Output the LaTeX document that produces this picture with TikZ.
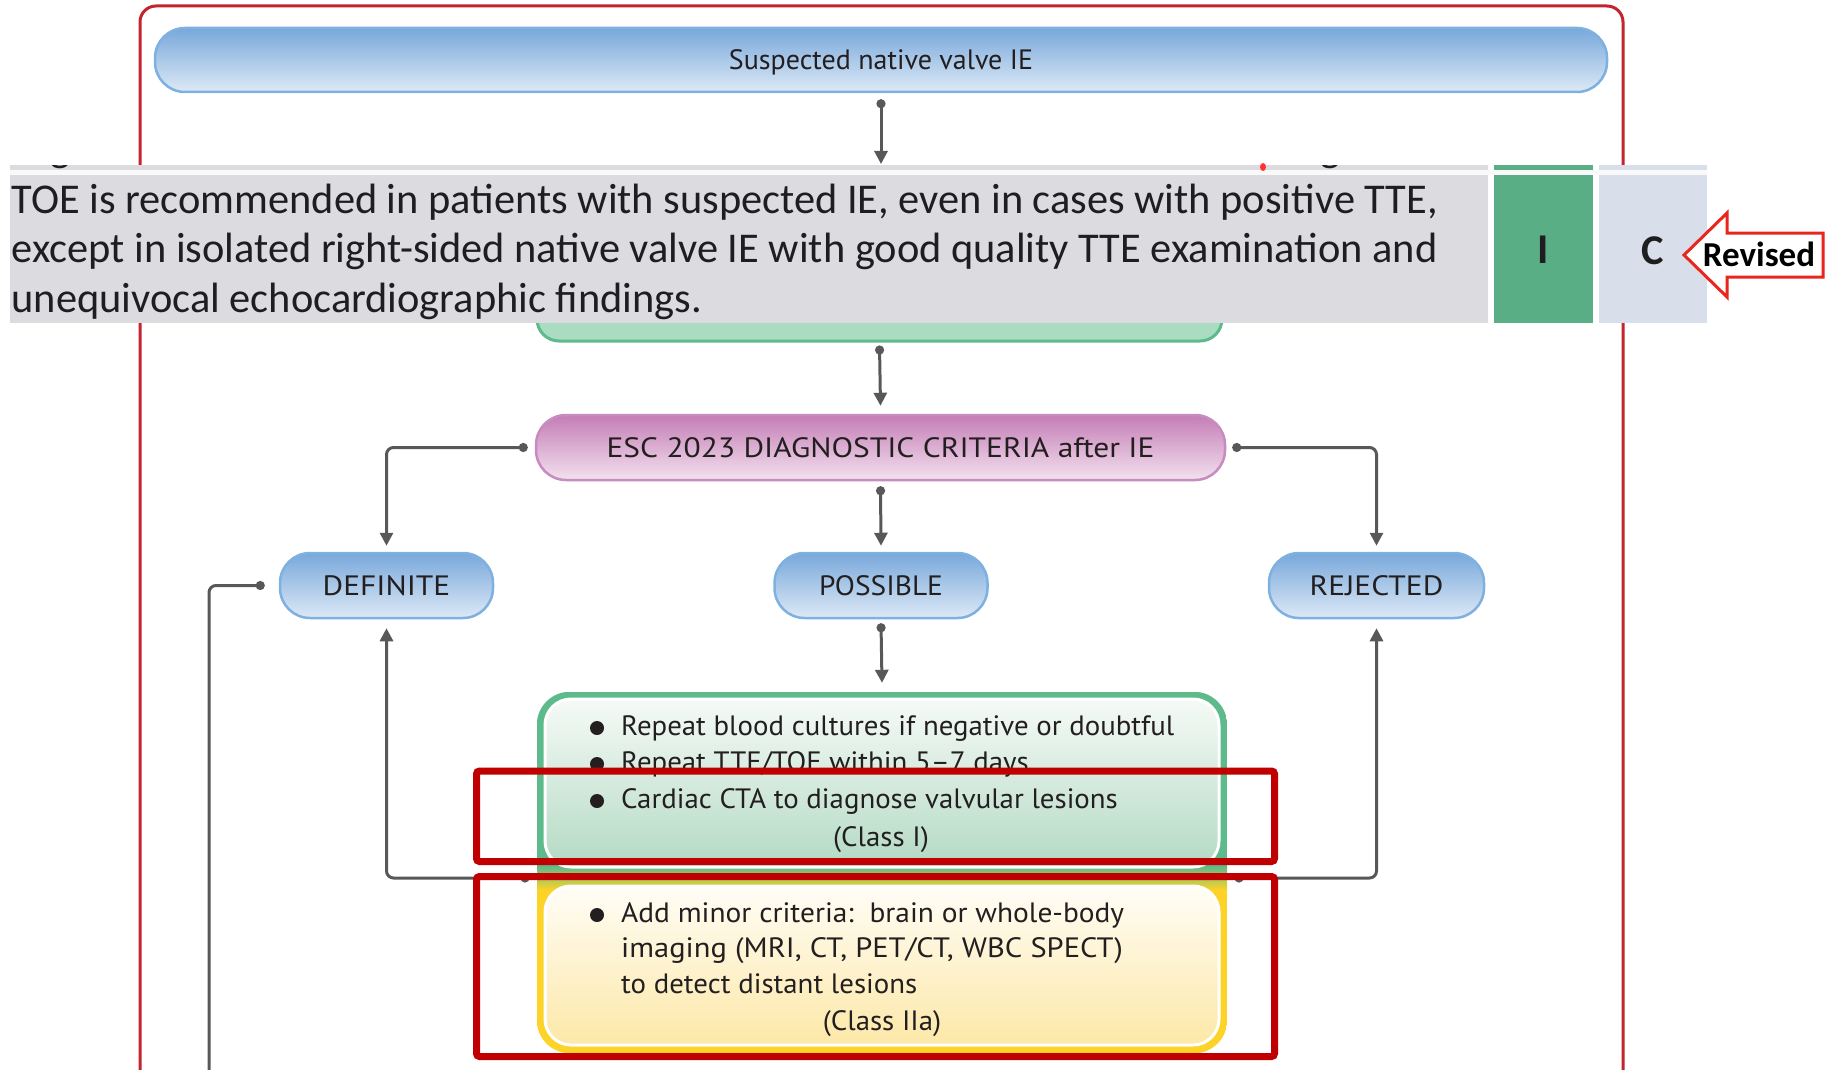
\documentclass[tikz,border=0pt]{standalone}
\usepackage{fontspec}
\usetikzlibrary{arrows.meta}
\newfontfamily\tabfont{Carlito}
\newfontfamily\flowplain{PT Sans}
\newfontfamily\flowfamily[FakeStretch=1.03]{PT Sans}
\newfontfamily\flowmid[FakeStretch=1.05]{PT Sans}
\newfontfamily\flowwide[FakeStretch=1.09]{PT Sans}
\newfontfamily\flowcaps[FakeStretch=1.125]{PT Sans}

\definecolor{framered}{HTML}{C3242E}
\definecolor{hired}{HTML}{C00000}
\definecolor{revred}{HTML}{E8261E}
\definecolor{connc}{HTML}{585858}
\definecolor{blueTop}{HTML}{78A8DB}
\definecolor{blueBot}{HTML}{DDE9F6}
\definecolor{blueEdge}{HTML}{7EB0E0}
\definecolor{pinkTop}{HTML}{C47DB5}
\definecolor{pinkBot}{HTML}{F3E1EF}
\definecolor{pinkEdge}{HTML}{C88BC0}
\definecolor{tabgray}{HTML}{DCDBDF}
\definecolor{tabgreen}{HTML}{5AAE86}
\definecolor{tabblue}{HTML}{D8DFEA}
\definecolor{tabtxt}{HTML}{1E1E20}
\definecolor{boxgreen}{HTML}{5DBA8A}
\definecolor{boxyellow}{HTML}{FDD327}
\definecolor{teeFill}{HTML}{AADCC1}
\definecolor{gTop}{HTML}{F6FAF7}
\definecolor{gBot}{HTML}{B3DAC3}
\definecolor{yTop}{HTML}{FFFDF6}
\definecolor{yBot}{HTML}{FDE8A8}
\definecolor{txt}{HTML}{231F20}

\tikzset{
  conn/.style={draw=connc, line width=3pt, rounded corners=7pt,
    {Circle[length=9pt]}-{Triangle[length=13pt,width=13pt]}},
  tailonly/.style={draw=connc, line width=3pt, rounded corners=7pt, {Circle[length=9pt]}-},
  pillbase/.style={shape=rectangle, rounded corners=30pt, line width=2.5pt, inner sep=0pt,
    text=txt, font=\flowcaps\fontsize{28}{34}\selectfont, text height=20pt, text depth=0pt},
  bluepill/.style={pillbase, draw=blueEdge, top color=blueTop, bottom color=blueBot},
  pinkpill/.style={pillbase, draw=pinkEdge, top color=pinkTop, bottom color=pinkBot},
  flowtext/.style={inner sep=0pt, text=txt, font=\flowfamily\fontsize{28}{34}\selectfont, anchor=base west},
  tabtext/.style={inner sep=0pt, text=tabtxt, font=\tabfont\fontsize{42.4}{48}\selectfont, anchor=base west},
  tabcell/.style={inner sep=0pt, anchor=north west, minimum height=158pt},
  redmark/.style={draw=hired, line width=7pt, rounded corners=3pt},
}

\begin{document}
\begin{tikzpicture}[x=1pt,y=-1pt]
\useasboundingbox (0,0) rectangle (1831,1070);
\clip (0,0) rectangle (1831,1070);
\fill[white] (0,0) rectangle (1831,1070);

% outer frame of the figure
\draw[framered, line width=3pt, rounded corners=16pt] (140,1100) -- (140,6) -- (1623,6) -- (1623,1100);

% first step
\node[bluepill, font=\flowplain\fontsize{28}{34}\selectfont, minimum width=1452pt, minimum height=64pt]
  (susp) at (881,60) {Suspected native valve IE};

% imaging box, mostly under the recommendation row
\node[draw=boxgreen, fill=teeFill, line width=3pt, rounded corners=22pt,
      minimum width=685pt, minimum height=90pt] (tee) at (879.5,296) {};

% recommendation row
\node[tabcell, fill=tabgray, minimum width=1478pt] (rec) at (10,165) {};
\node[tabcell, fill=tabgreen, minimum width=99pt] (cls) at (1494,165) {};
\node[tabcell, fill=tabblue, minimum width=108pt] (lvl) at (1599,165) {};
\fill[white!95!gray] (10,170) rectangle (1707,175);
\begin{scope}
  \clip (10,165) rectangle (1707,170);
  \node[tabtext] (frag1) at (50,161) {g};
  \node[tabtext] (frag2) at (1320,161) {g};
\end{scope}
\fill[red!80!white] (1263,167) ellipse (3pt and 4pt);

\node[tabtext] (rec1) at (11.5,213.3) {TOE is recommended in patients with suspected IE, even in cases with positive TTE,};
\node[tabtext] (rec2) at (11.5,262.8) {except in isolated right-sided native valve IE with good quality TTE examination and};
\node[tabtext] (rec3) at (11.5,312.3) {unequivocal echocardiographic findings.};
\node[inner sep=0pt, text=tabtxt, font=\tabfont\bfseries\fontsize{42.4}{48}\selectfont,
      text height=27pt, text depth=0pt] (clsI) at (1543,250) {I};
\node[inner sep=0pt, text=tabtxt, font=\tabfont\bfseries\fontsize{42.4}{48}\selectfont,
      text height=27pt, text depth=0pt] (lvlC) at (1653,251) {C};

% revision marker
\draw[revred, line width=3pt, fill=white, line join=miter]
  (1684,255) -- (1727,213) -- (1727,233) -- (1823,233) -- (1823,277) -- (1727,277) -- (1727,297) -- cycle;
\node[inner sep=0pt, text=black, font=\tabfont\bfseries\fontsize{35}{40}\selectfont,
      text height=22pt, text depth=0pt] (rev) at (1759,255) {Revised};

% diagnostic criteria and classification
\node[pinkpill, minimum width=689pt, minimum height=65pt] (esc) at (880.5,447.5) {ESC 2023 DIAGNOSTIC CRITERIA after IE};
\node[bluepill, minimum width=213pt, minimum height=65pt] (def) at (386.5,585.5) {DEFINITE};
\node[bluepill, font=\flowmid\fontsize{28}{34}\selectfont, minimum width=213pt, minimum height=65pt]
  (pos) at (881,585.5) {POSSIBLE};
\node[bluepill, minimum width=215pt, minimum height=65pt] (rej) at (1376.5,585.5) {REJECTED};

% follow-up box for possible IE
\node[inner sep=0pt, minimum width=690pt, minimum height=361pt] (crit) at (882,872.5) {};
\begin{scope}
  \clip[rounded corners=33pt] (crit.north west) rectangle (crit.south east);
  \fill[boxgreen] (537,692) rectangle (1227,866);
  \shade[top color=boxgreen, bottom color=boxyellow] (537,866) rectangle (1227,890);
  \fill[boxyellow] (537,890) rectangle (1227,1053);
\end{scope}
\path[draw=white, line width=3pt, rounded corners=26pt, top color=gTop, bottom color=gBot]
  (545,699) rectangle (1219,867);
\path[draw=white, line width=3pt, rounded corners=26pt, top color=yTop, bottom color=yBot]
  (545,886) rectangle (1219,1045);

% connectors
\coordinate (topin) at (881,164);
\coordinate (jl) at (529.5,878);
\coordinate (jr) at (1234.5,878);
\coordinate (loopend) at (209,1080);
\draw[conn] ([yshift=-6pt]susp.south) -- (topin);
\draw[conn] ([yshift=-3pt]tee.south) -- ([yshift=8pt]esc.north);
\draw[conn] ([xshift=-7pt]esc.west) -| ([yshift=6pt]def.north);
\draw[conn] ([xshift=6pt]esc.east) -| ([yshift=6pt]rej.north);
\draw[conn] ([yshift=-5pt]esc.south) -- ([yshift=6pt]pos.north);
\draw[conn] ([yshift=-4pt]pos.south) -- ([yshift=9pt]crit.north);
\draw[conn] (jl) -| ([yshift=-9pt]def.south);
\draw[conn] (jr) -| ([yshift=-9pt]rej.south);
\draw[tailonly] ([xshift=-14pt]def.west) -| (loopend);

% box texts
\fill[txt] (597,728) circle (7pt);
\fill[txt] (597,764) circle (7pt);
\fill[txt] (597,801) circle (7pt);
\node[flowtext] (g1) at (621,735) {Repeat blood cultures if negative or doubtful};
\node[flowtext] (g2) at (621,771) {Repeat TTE/TOE within 5–7 days};
\node[flowtext] (g3) at (621,808) {Cardiac CTA to diagnose valvular lesions};
\node[flowtext, anchor=base] (g4) at (881,846) {(Class I)};
\fill[txt] (597,915) circle (7pt);
\node[flowtext, font=\flowmid\fontsize{28}{34}\selectfont] (y1) at (621,922) {Add minor criteria:\ \ brain or whole-body};
\node[flowtext, font=\flowwide\fontsize{28}{34}\selectfont] (y2) at (621,957) {imaging (MRI, CT, PET/CT, WBC SPECT)};
\node[flowtext] (y3) at (621,993) {to detect distant lesions};
\node[flowtext, anchor=base] (y4) at (882,1030) {(Class IIa)};

% highlight frames
\draw[redmark] (476.5,771) rectangle (1274.5,861.5);
\draw[redmark] (476.5,876.5) rectangle (1274.5,1056.5);
\end{tikzpicture}
\end{document}
